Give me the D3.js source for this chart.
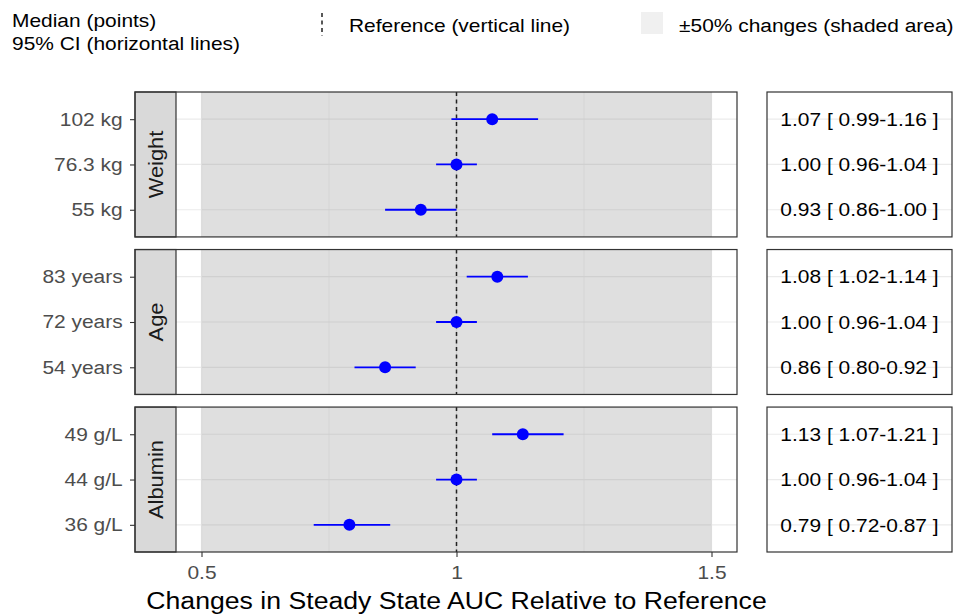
<!DOCTYPE html>
<html><head><meta charset="utf-8">
<script src="https://cdn.jsdelivr.net/npm/d3@7"></script>
<style>
html,body{margin:0;padding:0;background:#fff;}
svg{display:block;font-family:"Liberation Sans",Arial,sans-serif;}
</style></head>
<body>
<svg id="chart" width="956" height="614"></svg>
<script>
// ---- data ----
const groups = ["Weight", "Age", "Albumin"];
const rowLabels = [
  ["102 kg", "76.3 kg", "55 kg"],
  ["83 years", "72 years", "54 years"],
  ["49 g/L", "44 g/L", "36 g/L"]
];
const medians = [[1.07, 1.00, 0.93], [1.08, 1.00, 0.86], [1.13, 1.00, 0.79]];
const lower   = [[0.99, 0.96, 0.86], [1.02, 0.96, 0.80], [1.07, 0.96, 0.72]];
const upper   = [[1.16, 1.04, 1.00], [1.14, 1.04, 0.92], [1.21, 1.04, 0.87]];
const xTicks = [0.5, 1, 1.5];
const xMinorTicks = [0.75, 1.25];
const shadeRange = [0.5, 1.5];
const refValue = 1;
const xDomain = [0.45, 1.55];
const axisTitle = "Changes in Steady State AUC Relative to Reference";
const legendTexts = ["Median (points)", "95% CI (horizontal lines)", "Reference (vertical line)", "\u00b150% changes (shaded area)"];

// ---- layout ----
const SX = 1.12;           // horizontal glyph stretch
const FS = 18.7;
const stripL = 135, panelL = 176, panelR = 737;
const tabL = 767, tabR = 952;
const svg = d3.select("#chart");

const x = d3.scaleLinear().domain(xDomain).range([panelL, panelR]);
const py = d3.scaleBand().domain(groups).range([92, 552]).paddingInner(0.08);
const bw = py.bandwidth();

function stxt(sel, tx, ty, rot) {
  return sel.attr("transform", `translate(${tx},${ty}) rotate(${rot || 0}) scale(${SX},1)`);
}

groups.forEach((g, gi) => {
  const top = py(g);
  const gy = svg.append("g").attr("transform", `translate(0,${top})`);
  const y = d3.scalePoint().domain(rowLabels[gi]).range([0, bw]).padding(0.6);

  gy.append("rect").attr("x", panelL).attr("y", 0).attr("width", panelR - panelL).attr("height", bw).attr("fill", "#fff");
  gy.selectAll(".hg").data(rowLabels[gi]).join("line")
    .attr("x1", panelL).attr("x2", panelR).attr("y1", d => y(d)).attr("y2", d => y(d))
    .attr("stroke", "#ebebeb").attr("stroke-width", 1.2);
  gy.selectAll(".vg").data(xTicks).join("line")
    .attr("x1", d => x(d)).attr("x2", d => x(d)).attr("y1", 0).attr("y2", bw)
    .attr("stroke", "#ebebeb").attr("stroke-width", 1.2);
  gy.selectAll(".vm").data(xMinorTicks).join("line")
    .attr("x1", d => x(d)).attr("x2", d => x(d)).attr("y1", 0).attr("y2", bw)
    .attr("stroke", "#ebebeb").attr("stroke-width", 0.7);
  gy.append("rect").attr("x", x(shadeRange[0])).attr("y", 0)
    .attr("width", x(shadeRange[1]) - x(shadeRange[0])).attr("height", bw)
    .attr("fill", "#7f7f7f").attr("fill-opacity", 0.25);
  gy.append("line").attr("x1", x(refValue)).attr("x2", x(refValue)).attr("y1", 0).attr("y2", bw)
    .attr("stroke", "#222").attr("stroke-width", 1.5).attr("stroke-dasharray", "4,3.5");
  gy.selectAll(".ci").data(rowLabels[gi]).join("line")
    .attr("x1", (d, i) => x(lower[gi][i])).attr("x2", (d, i) => x(upper[gi][i]))
    .attr("y1", d => y(d)).attr("y2", d => y(d))
    .attr("stroke", "#0000ff").attr("stroke-width", 1.8);
  gy.selectAll(".pt").data(rowLabels[gi]).join("circle")
    .attr("cx", (d, i) => x(medians[gi][i])).attr("cy", d => y(d)).attr("r", 6)
    .attr("fill", "#0000ff");
  gy.append("rect").attr("x", stripL).attr("y", 0).attr("width", panelL - stripL).attr("height", bw)
    .attr("fill", "#d9d9d9").attr("stroke", "#333").attr("stroke-width", 1.2);
  stxt(gy.append("text").text(g).attr("text-anchor", "middle").attr("fill", "#1a1a1a")
    .attr("font-size", 19.5), (stripL + panelL) / 2 + 7, bw / 2, -90);
  gy.append("rect").attr("x", stripL).attr("y", 0).attr("width", panelR - stripL).attr("height", bw)
    .attr("fill", "none").attr("stroke", "#333").attr("stroke-width", 1.2);

  const ya = gy.append("g").attr("transform", `translate(${stripL},0)`)
    .call(d3.axisLeft(y).tickSize(5).tickPadding(6));
  ya.select(".domain").remove();
  ya.selectAll(".tick line").attr("stroke", "#333").attr("stroke-width", 1.1);
  ya.selectAll(".tick text").attr("fill", "#4d4d4d").attr("font-size", FS)
    .attr("font-family", "Liberation Sans, Arial, sans-serif")
    .attr("transform", `scale(${SX},1)`);

  const tg = gy.append("g");
  tg.append("rect").attr("x", tabL).attr("y", 0).attr("width", tabR - tabL).attr("height", bw).attr("fill", "#fff");
  tg.selectAll(".tg").data(rowLabels[gi]).join("line")
    .attr("x1", tabL).attr("x2", tabR).attr("y1", d => y(d)).attr("y2", d => y(d))
    .attr("stroke", "#ebebeb").attr("stroke-width", 1.2);
  const f2 = d3.format(".2f");
  tg.selectAll(".tt").data(rowLabels[gi]).join("text")
    .text((d, i) => `${f2(medians[gi][i])} [ ${f2(lower[gi][i])}-${f2(upper[gi][i])} ]`)
    .attr("text-anchor", "middle").attr("fill", "#000").attr("font-size", FS)
    .attr("transform", d => `translate(${(tabL + tabR) / 2},${y(d) + 6.7}) scale(${SX},1)`);
  tg.append("rect").attr("x", tabL).attr("y", 0).attr("width", tabR - tabL).attr("height", bw)
    .attr("fill", "none").attr("stroke", "#333").attr("stroke-width", 1.2);
});

const bottom = py(groups[groups.length - 1]) + bw;
const xa = svg.append("g").attr("transform", `translate(0,${bottom})`)
  .call(d3.axisBottom(x).tickValues(xTicks).tickFormat(d => String(d)).tickSize(5).tickPadding(9));
xa.select(".domain").remove();
xa.selectAll(".tick line").attr("stroke", "#333").attr("stroke-width", 1.1);
xa.selectAll(".tick text").attr("fill", "#4d4d4d").attr("font-size", FS)
  .attr("font-family", "Liberation Sans, Arial, sans-serif")
  .attr("transform", `scale(${SX},1)`);

stxt(svg.append("text").text(axisTitle).attr("text-anchor", "middle").attr("fill", "#000")
  .attr("font-size", 23.8), x(1), 609, 0);

stxt(svg.append("text").text(legendTexts[0]).attr("fill", "#000").attr("font-size", FS), 12, 27, 0);
stxt(svg.append("text").text(legendTexts[1]).attr("fill", "#000").attr("font-size", FS), 12, 50, 0);
svg.append("line").attr("x1", 322).attr("x2", 322).attr("y1", 13).attr("y2", 36)
  .attr("stroke", "#222").attr("stroke-width", 1.5).attr("stroke-dasharray", "4,3.5");
stxt(svg.append("text").text(legendTexts[2]).attr("fill", "#000").attr("font-size", FS), 349, 31.5, 0);
svg.append("rect").attr("x", 641).attr("y", 12).attr("width", 22).attr("height", 22).attr("fill", "#f0f0f0");
stxt(svg.append("text").text(legendTexts[3]).attr("fill", "#000").attr("font-size", FS), 679, 31.5, 0);
</script>
</body></html>
